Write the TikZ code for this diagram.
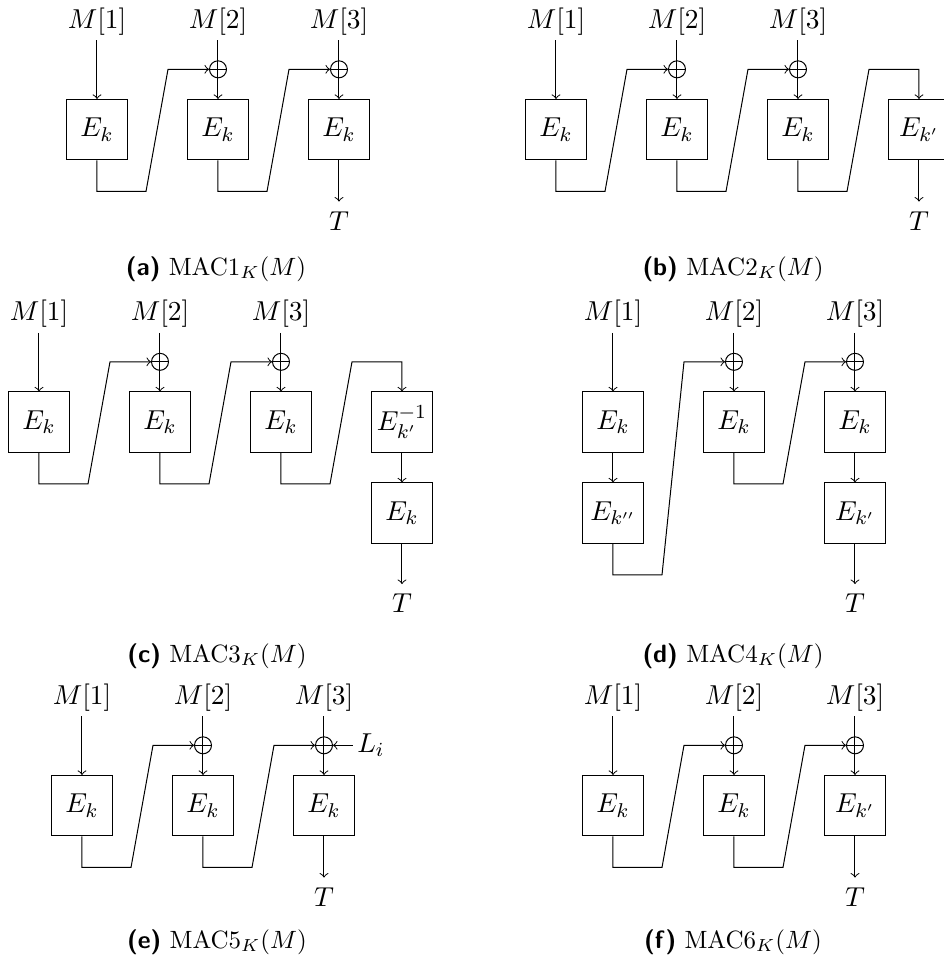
\documentclass[tikz,border=0pt]{standalone}
\usetikzlibrary{calc}
\newcommand{\mylink}[2]{\draw[arr] (#1.south) -- ++(0,31) -- ++(49,0) -- ([xshift=28.4pt]#1.south |- #2.west) -- (#2.west);}
\newcommand{\mylinkdown}[3]{\draw[arr] (#1.south) -- ++(0,31) -- ++(49,0) -- ([xshift=28.4pt]#1.south |- #3) -- (#3) -- (#2.north);}
\begin{document}
\begin{tikzpicture}[x=0.4pt,y=-0.4pt,
  arr/.style={->},
  blk/.style={draw, minimum width=24.4pt, minimum height=24.2pt, inner sep=0pt, font=\fontsize{11}{13}\selectfont},
  inlbl/.style={anchor=base, inner sep=2pt, font=\fontsize{11}{13}\selectfont},
  outlbl/.style={anchor=base, inner sep=3.7pt, font=\fontsize{11}{13}\selectfont},
  sidelbl/.style={anchor=west, inner sep=1.5pt, font=\fontsize{11}{13}\selectfont},
  xorsym/.style={circle, draw, inner sep=0pt, minimum size=6.8pt,
    path picture={\draw (path picture bounding box.north) -- (path picture bounding box.south)
      (path picture bounding box.west) -- (path picture bounding box.east);}},
  captxt/.style={anchor=base, font=\fontsize{10}{12}\selectfont}]
\useasboundingbox (0,0) rectangle (943,963);

% ---------- (a) ----------
\node[inlbl] (aM1) at (97,28) {$M[1]$};
\node[inlbl] (aM2) at (218,28) {$M[2]$};
\node[inlbl] (aM3) at (339,28) {$M[3]$};
\node[xorsym] (aX2) at (218,69.3) {};
\node[xorsym] (aX3) at (339,69.3) {};
\node[blk] (aE1) at (97,129.7) {$E_k$};
\node[blk] (aE2) at (218,129.7) {$E_k$};
\node[blk] (aE3) at (339,129.7) {$E_k$};
\node[outlbl] (aT) at (339,230) {$T$};
\node[captxt] (aC) at (216,275) {\textsf{\textbf{(a)}} $\mathrm{MAC1}_K(M)$};
\draw[arr] (aM1.south) -- (aE1.north);
\draw[arr] (aM2.south) -- (aE2.north);
\draw[arr] (aM3.south) -- (aE3.north);
\mylink{aE1}{aX2}
\mylink{aE2}{aX3}
\draw[arr] (aE3.south) -- (aT.north);

% ---------- (b) ----------
\node[inlbl] (bM1) at (556,28) {$M[1]$};
\node[inlbl] (bM2) at (677,28) {$M[2]$};
\node[inlbl] (bM3) at (798,28) {$M[3]$};
\node[xorsym] (bX2) at (677,69.3) {};
\node[xorsym] (bX3) at (798,69.3) {};
\coordinate (bR) at (919,69.3);
\node[blk] (bE1) at (556,129.7) {$E_k$};
\node[blk] (bE2) at (677,129.7) {$E_k$};
\node[blk] (bE3) at (798,129.7) {$E_k$};
\node[blk] (bE4) at (919,129.7) {$E_{k'}$};
\node[outlbl] (bT) at (919,230) {$T$};
\node[captxt] (bC) at (733,275) {\textsf{\textbf{(b)}} $\mathrm{MAC2}_K(M)$};
\draw[arr] (bM1.south) -- (bE1.north);
\draw[arr] (bM2.south) -- (bE2.north);
\draw[arr] (bM3.south) -- (bE3.north);
\mylink{bE1}{bX2}
\mylink{bE2}{bX3}
\mylinkdown{bE3}{bE4}{bR}
\draw[arr] (bE4.south) -- (bT.north);

% ---------- (c) ----------
\node[inlbl] (cM1) at (39,320.5) {$M[1]$};
\node[inlbl] (cM2) at (160,320.5) {$M[2]$};
\node[inlbl] (cM3) at (281,320.5) {$M[3]$};
\node[xorsym] (cX2) at (160,361.8) {};
\node[xorsym] (cX3) at (281,361.8) {};
\coordinate (cR) at (402,361.8);
\node[blk] (cE1) at (39,422.2) {$E_k$};
\node[blk] (cE2) at (160,422.2) {$E_k$};
\node[blk] (cE3) at (281,422.2) {$E_k$};
\node[blk] (cE4) at (402,422.2) {$E^{-1}_{k'}$};
\node[blk] (cE5) at (402,513.2) {$E_k$};
\node[outlbl] (cT) at (402,612.5) {$T$};
\node[captxt] (cC) at (217,662) {\textsf{\textbf{(c)}} $\mathrm{MAC3}_K(M)$};
\draw[arr] (cM1.south) -- (cE1.north);
\draw[arr] (cM2.south) -- (cE2.north);
\draw[arr] (cM3.south) -- (cE3.north);
\mylink{cE1}{cX2}
\mylink{cE2}{cX3}
\mylinkdown{cE3}{cE4}{cR}
\draw[arr] (cE4.south) -- (cE5.north);
\draw[arr] (cE5.south) -- (cT.north);

% ---------- (d) ----------
\node[inlbl] (dM1) at (613,320.5) {$M[1]$};
\node[inlbl] (dM2) at (734,320.5) {$M[2]$};
\node[inlbl] (dM3) at (855,320.5) {$M[3]$};
\node[xorsym] (dX2) at (734,361.8) {};
\node[xorsym] (dX3) at (855,361.8) {};
\node[blk] (dE1) at (613,422.2) {$E_k$};
\node[blk] (dE1b) at (613,513.2) {$E_{k''}$};
\node[blk] (dE2) at (734,422.2) {$E_k$};
\node[blk] (dE3) at (855,422.2) {$E_k$};
\node[blk] (dE3b) at (855,513.2) {$E_{k'}$};
\node[outlbl] (dT) at (855,612.5) {$T$};
\node[captxt] (dC) at (733,662) {\textsf{\textbf{(d)}} $\mathrm{MAC4}_K(M)$};
\draw[arr] (dM1.south) -- (dE1.north);
\draw[arr] (dM2.south) -- (dE2.north);
\draw[arr] (dM3.south) -- (dE3.north);
\draw[arr] (dE1.south) -- (dE1b.north);
\mylink{dE1b}{dX2}
\mylink{dE2}{dX3}
\draw[arr] (dE3.south) -- (dE3b.north);
\draw[arr] (dE3b.south) -- (dT.north);

% ---------- (e) ----------
\node[inlbl] (eM1) at (82,704) {$M[1]$};
\node[inlbl] (eM2) at (203,704) {$M[2]$};
\node[inlbl] (eM3) at (324,704) {$M[3]$};
\node[xorsym] (eX2) at (203,745.3) {};
\node[xorsym] (eX3) at (324,745.3) {};
\node[sidelbl] (eL) at (353,745.3) {$L_i$};
\node[blk] (eE1) at (82,805.7) {$E_k$};
\node[blk] (eE2) at (203,805.7) {$E_k$};
\node[blk] (eE3) at (324,805.7) {$E_k$};
\node[outlbl] (eT) at (324,906) {$T$};
\node[captxt] (eC) at (217,948) {\textsf{\textbf{(e)}} $\mathrm{MAC5}_K(M)$};
\draw[arr] (eM1.south) -- (eE1.north);
\draw[arr] (eM2.south) -- (eE2.north);
\draw[arr] (eM3.south) -- (eE3.north);
\mylink{eE1}{eX2}
\mylink{eE2}{eX3}
\draw[arr] (eL.west) -- (eX3.east);
\draw[arr] (eE3.south) -- (eT.north);

% ---------- (f) ----------
\node[inlbl] (fM1) at (613,704) {$M[1]$};
\node[inlbl] (fM2) at (734,704) {$M[2]$};
\node[inlbl] (fM3) at (855,704) {$M[3]$};
\node[xorsym] (fX2) at (734,745.3) {};
\node[xorsym] (fX3) at (855,745.3) {};
\node[blk] (fE1) at (613,805.7) {$E_k$};
\node[blk] (fE2) at (734,805.7) {$E_k$};
\node[blk] (fE3) at (855,805.7) {$E_{k'}$};
\node[outlbl] (fT) at (855,906) {$T$};
\node[captxt] (fC) at (733,948) {\textsf{\textbf{(f)}} $\mathrm{MAC6}_K(M)$};
\draw[arr] (fM1.south) -- (fE1.north);
\draw[arr] (fM2.south) -- (fE2.north);
\draw[arr] (fM3.south) -- (fE3.north);
\mylink{fE1}{fX2}
\mylink{fE2}{fX3}
\draw[arr] (fE3.south) -- (fT.north);
\end{tikzpicture}
\end{document}
